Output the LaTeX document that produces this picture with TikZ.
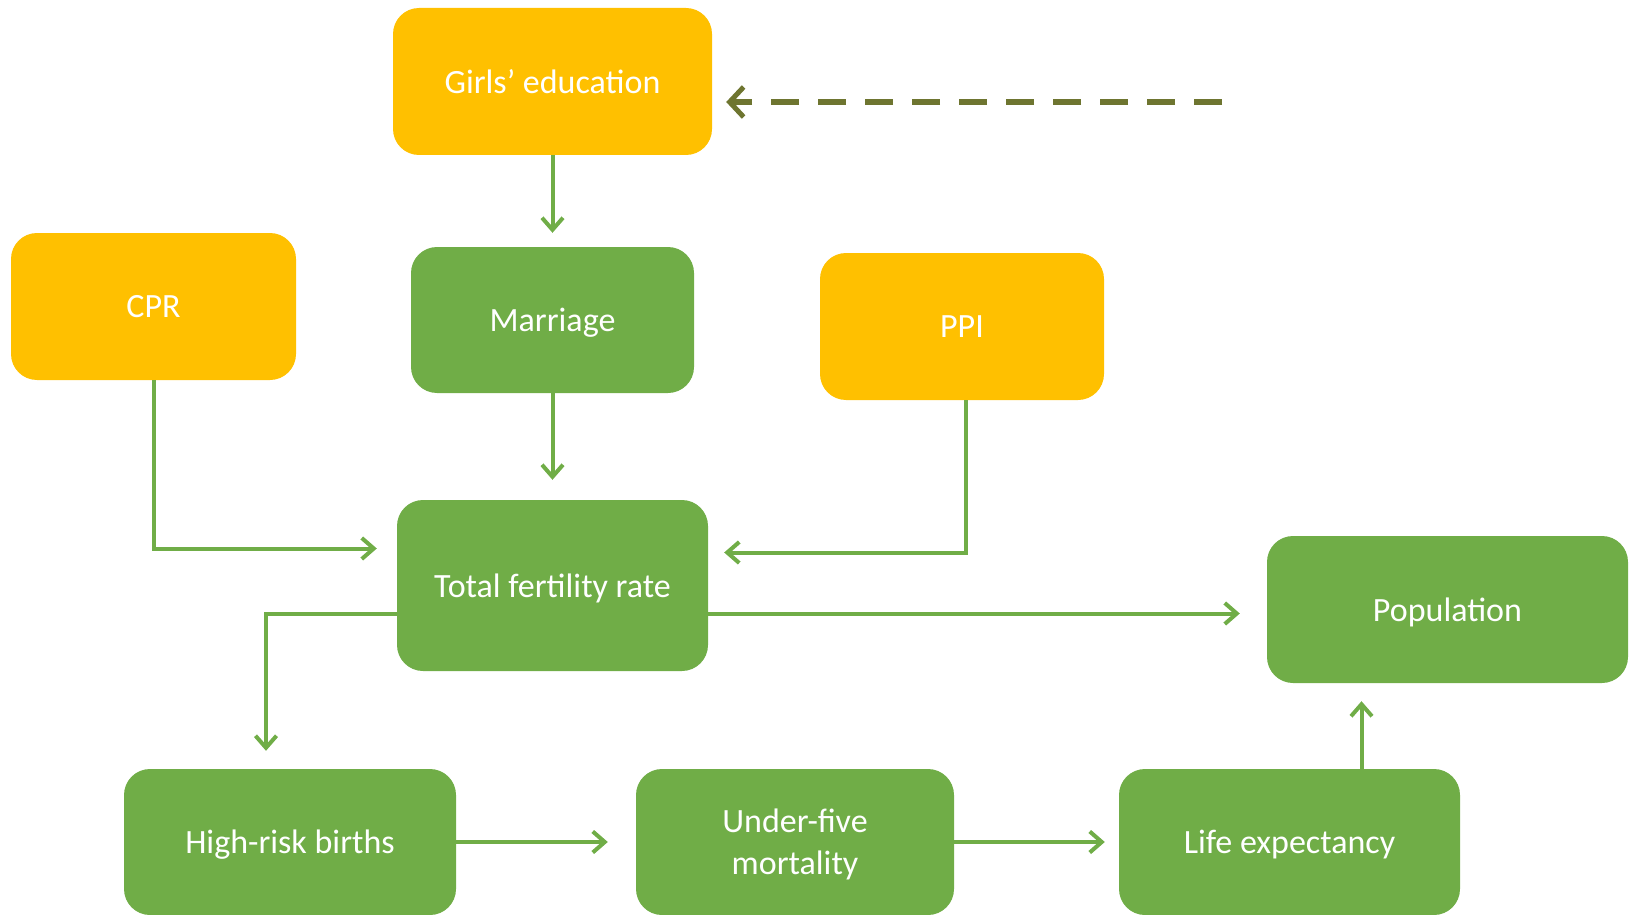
\documentclass[tikz,border=0pt]{standalone}
\usepackage{fontspec}
\setmainfont{Carlito}
\usetikzlibrary{arrows.meta}
\definecolor{boxyellow}{HTML}{FFC000}
\definecolor{boxgreen}{HTML}{70AD47}
\definecolor{darkolive}{RGB}{110,117,48}
\begin{document}
\begin{tikzpicture}
    %flow of the population model
    	[x=1pt,y=-1pt,
    	 box/.style={rounded corners=26pt,text=white,align=center,inner sep=0pt,text depth=0pt,
    	             font=\fontsize{34}{42}\selectfont},
    	 lever/.style={box,fill=boxyellow},
    	 outcome/.style={box,fill=boxgreen},
    	 arr/.style={draw=boxgreen,line width=4pt,-{Straight Barb[length=12pt,width=21pt,line width=4pt]}},
    	 dasharr/.style={draw=darkolive,line width=6pt,dash pattern=on 28pt off 19pt,
    	                 -{Straight Barb[length=14pt,width=30pt,line width=5pt]}}]
    \useasboundingbox (0,0) rectangle (1634,915);

    %the boxes
    \node[lever,minimum width=319pt,minimum height=147pt]   (girls)    at (552.5,81.5) {Girls’ education};
    \node[lever,minimum width=285pt,minimum height=147pt]   (cpr)      at (153.5,306.5) {CPR};
    \node[outcome,minimum width=283pt,minimum height=146pt] (marriage) at (552.5,320) {Marriage};
    \node[lever,minimum width=284pt,minimum height=147pt]   (ppi)      at (962,326.5) {PPI};
    \node[outcome,minimum width=311pt,minimum height=171pt] (tfr)      at (552.5,585.5) {Total fertility rate};
    \node[outcome,minimum width=361pt,minimum height=147pt] (pop)      at (1447.5,609.5) {Population};
    \node[outcome,minimum width=332pt,minimum height=146pt] (hrb)      at (290,842) {High-risk births};
    \node[outcome,minimum width=318pt,minimum height=146pt] (ufm)      at (795,842) {Under-five\\mortality};
    \node[outcome,minimum width=341pt,minimum height=146pt] (life)     at (1289.5,842) {Life expectancy};

    % girls
    \coordinate (outside) at (1222,102);
    \draw[dasharr,shorten >=14pt] (outside) -- (outside -| girls.east);
    \draw[arr,shorten >=14pt] (girls) -- (marriage);
    % marriage
    \draw[arr,shorten >=20pt] (marriage) -- (tfr);
    % cpr
    \draw[arr,shorten >=20pt] (cpr.south) |- ([yshift=37pt]tfr.west);
    % ppi
    \draw[arr,shorten >=16pt] ([xshift=4pt]ppi.south) |- ([yshift=33pt]tfr.east);
    % tfr
    \draw[arr,shorten >=27pt] ([yshift=-28pt]tfr.east) -- ([yshift=-28pt]tfr.east -| pop.west);
    \draw[arr,shorten >=18pt] ([yshift=-28pt]tfr.west) -| ([xshift=-24pt]hrb.north);
    % bottom row
    \draw[arr,shorten >=28pt] (hrb) -- (ufm);
    \draw[arr,shorten >=14pt] (ufm) -- (life);
    \draw[arr,shorten >=18pt] ([xshift=72pt]life.north) -- ([xshift=72pt]life.north |- pop.south);
\end{tikzpicture}
\end{document}
